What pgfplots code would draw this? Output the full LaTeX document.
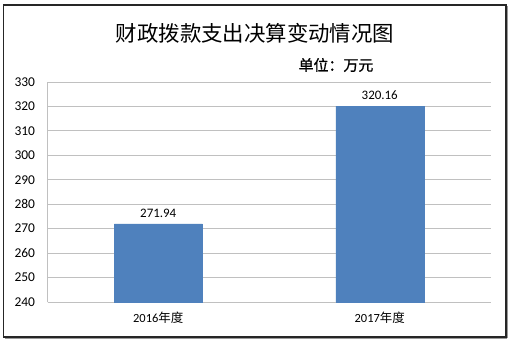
\documentclass[border=0pt]{standalone}
\usepackage{pgfplots}
\pgfplotsset{compat=1.18}
\usepackage{fontspec}
\setmainfont{Carlito}
\newfontfamily\cjk{Noto Sans CJK SC}
\newfontfamily\cjkb[FakeBold=1.2]{Noto Sans CJK SC}
\definecolor{barblue}{HTML}{4F81BD}
\definecolor{gridgray}{HTML}{C0C0C0}
\begin{document}
\begin{tikzpicture}[x=1bp,y=1bp]
\path[use as bounding box] (0,0) rectangle (515,345);
\fill[white] (0,0) rectangle (515,345);
\draw[line width=1.2bp, black!85] (3.5,8) rectangle (506,340);
\draw[line width=1bp, black!40] (507,7) -- (507,339);
\draw[line width=1bp, black!40] (5,7) -- (507,7);
\node[font=\cjk\fontsize{21.5}{23}\selectfont] at (255,312) {财政拨款支出决算变动情况图};
\node[font=\cjkb\fontsize{15}{17}\selectfont] at (336,280) {单位：万元};
\begin{axis}[
  at={(47.5bp,43bp)}, anchor=south west,
  scale only axis, width=443bp, height=220bp,
  xmin=0, xmax=2, ymin=240, ymax=330,
  ytick distance=10,
  xtick={0.5,1.5}, xticklabels={{2016\cjk 年度},{2017\cjk 年度}},
  ybar, bar width=88bp,
  ymajorgrids, grid style={gridgray, line width=0.8bp},
  axis line style={gridgray, line width=0.8bp},
  axis x line=bottom, axis y line=left,
  x axis line style={-}, y axis line style={-},
  major tick length=0pt,
  tick style={draw=none},
  /pgf/number format/assume math mode=true,
  yticklabel style={font=\fontsize{13.5}{15}\selectfont, xshift=-9bp},
  xticklabel style={font=\fontsize{12.5}{14}\selectfont, yshift=-6bp},
  nodes near coords, nodes near coords style={font=\fontsize{13}{15}\selectfont, yshift=3bp, /pgf/number format/.cd, fixed, precision=2, fixed zerofill},
  clip=false,
]
\addplot[fill=barblue, draw=barblue] coordinates {(0.5,271.94) (1.5,320.16)};
\end{axis}
\end{tikzpicture}
\end{document}
